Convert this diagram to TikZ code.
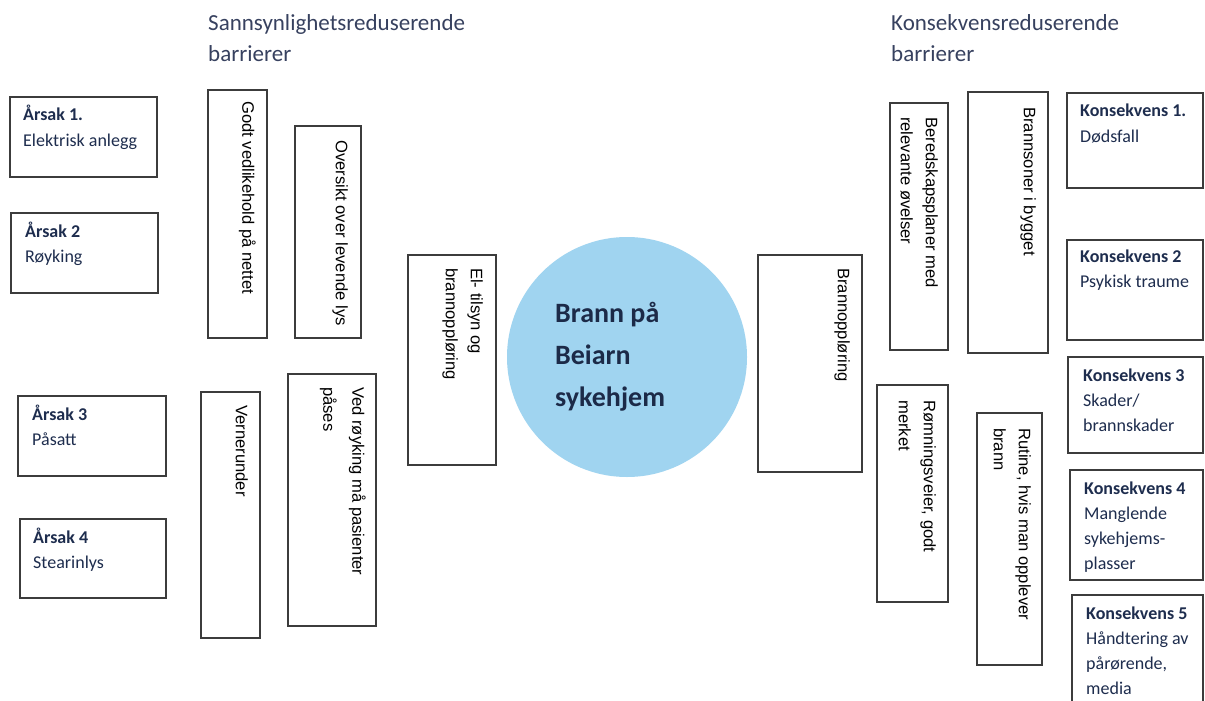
\documentclass[tikz,border=0pt]{standalone}
\usepackage{fontspec}
\setmainfont{Carlito}
\newfontfamily\arialfont{Liberation Sans}
\definecolor{boxline}{RGB}{60,60,60}
\definecolor{navy}{RGB}{30,45,78}
\definecolor{headcol}{RGB}{55,65,95}
\definecolor{cblue}{RGB}{160,212,240}
\definecolor{ctext}{RGB}{28,42,72}
\tikzset{
  box/.style={draw=boxline, line width=1.2pt, inner sep=0pt, fill=white},
  vtext/.style={rotate=-90, anchor=north west, align=left, inner sep=0pt, text=black,
    font={\arialfont\fontsize{16.6}{25}\selectfont}},
  htext/.style={anchor=base west, align=left, inner sep=0pt, text=navy,
    font={\fontsize{18}{25}\selectfont}},
  head/.style={anchor=base west, align=left, inner sep=0pt, text=headcol,
    font={\fontsize{23}{31}\selectfont}},
}
\begin{document}
\begin{tikzpicture}[x=1pt,y=-1pt]
\useasboundingbox (0,0) rectangle (1205,701);
\clip (0,0) rectangle (1205,701);
\fill[white] (0,0) rectangle (1205,701);
% headings (base anchor = baseline of last line)
\node[head] (h1) at (208,62) {Sannsynlighetsreduserende\\barrierer};
\node[head] (h2) at (891,62) {Konsekvensreduserende\\barrierer};
% causes
\node[box, minimum width=147, minimum height=80] (a1) at (83.5,137) {};
\node[htext] (a1t) at (23,146) {\textbf{Årsak 1.}\\Elektrisk anlegg};
\node[box, minimum width=147, minimum height=80] (a2) at (84.5,253) {};
\node[htext] (a2t) at (25,262) {\textbf{Årsak 2}\\Røyking};
\node[box, minimum width=148, minimum height=80] (a3) at (92,436) {};
\node[htext] (a3t) at (32,445) {\textbf{Årsak 3}\\Påsatt};
\node[box, minimum width=146, minimum height=79] (a4) at (93,558.5) {};
\node[htext] (a4t) at (33,568) {\textbf{Årsak 4}\\Stearinlys};
% probability-reducing barriers
\node[box, minimum width=59, minimum height=248] (b1) at (237.5,214) {};
\node[vtext] (b1t) at (256,101) {Godt vedlikehold på nettet};
\node[box, minimum width=66, minimum height=212] (b2) at (328,232) {};
\node[vtext] (b2t) at (348,140) {Oversikt over levende lys};
\node[box, minimum width=59, minimum height=246] (b3) at (230.5,515) {};
\node[vtext] (b3t) at (248,405) {Vernerunder};
\node[box, minimum width=88, minimum height=252] (b4) at (332,500) {};
\node[vtext, font={\arialfont\fontsize{16.6}{29}\selectfont}] (b4t) at (366,387) {Ved røyking må pasienter\\påses};
\node[box, minimum width=88, minimum height=210] (b5) at (452,360) {};
\node[vtext] (b5t) at (483,268) {El- tilsyn og\\brannoppløring};
% top event
\node[circle, fill=cblue, minimum size=240, inner sep=0pt] (top) at (627,357) {};
\node[anchor=base west, align=left, inner sep=0pt, text=ctext,
  font={\fontsize{28}{42}\bfseries\selectfont}] (topt) at (555,406) {Brann på\\Beiarn\\sykehjem};
% consequence-reducing barriers
\node[box, minimum width=104, minimum height=217] (c1) at (810,363.5) {};
\node[vtext] (c1t) at (850,268) {Brannoppløring};
\node[box, minimum width=58, minimum height=247] (c2) at (919,226.5) {};
\node[vtext] (c2t) at (938,117) {Beredskapsplaner med\\relevante øvelser};
\node[box, minimum width=80, minimum height=261] (c3) at (1008,222.5) {};
\node[vtext] (c3t) at (1036,107) {Brannsoner i bygget};
\node[box, minimum width=71, minimum height=217] (c4) at (912.5,493.5) {};
\node[vtext] (c4t) at (936,400) {Rømningsveier, godt\\merket};
\node[box, minimum width=65, minimum height=252] (c5) at (1009.5,539) {};
\node[vtext] (c5t) at (1031,428) {Rutine, hvis man opplever\\brann};
% consequences
\node[box, minimum width=136, minimum height=95] (k1) at (1135,140.5) {};
\node[htext] (k1t) at (1080,142) {\textbf{Konsekvens 1.}\\Dødsfall};
\node[box, minimum width=136, minimum height=100] (k2) at (1135,290) {};
\node[htext] (k2t) at (1080,287) {\textbf{Konsekvens 2}\\Psykisk traume};
\node[box, minimum width=135, minimum height=96] (k3) at (1135.5,405) {};
\node[htext] (k3t) at (1083,431) {\textbf{Konsekvens 3}\\Skader/\\brannskader};
\node[box, minimum width=133, minimum height=110] (k4) at (1136.5,525) {};
\node[htext] (k4t) at (1084,569) {\textbf{Konsekvens 4}\\Manglende\\sykehjems-\\plasser};
\node[box, minimum width=131, minimum height=125] (k5) at (1137.5,657.5) {};
\node[htext] (k5t) at (1086,694) {\textbf{Konsekvens 5}\\Håndtering av\\pårørende,\\media};
\end{tikzpicture}
\end{document}
